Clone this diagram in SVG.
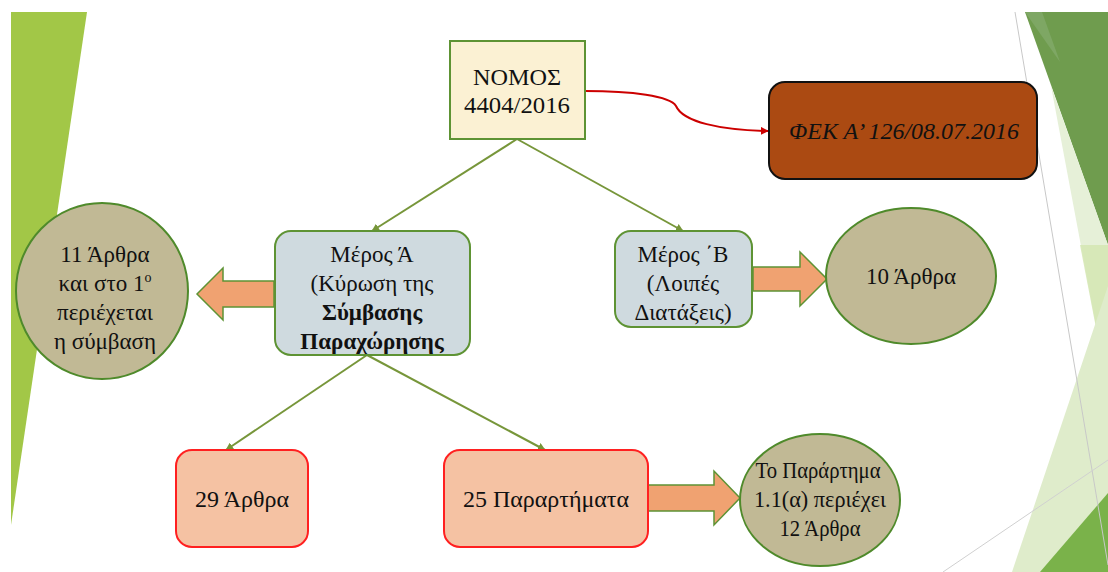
<svg xmlns="http://www.w3.org/2000/svg" width="1108" height="572" viewBox="0 0 1108 572">
<defs>
<style>
text{fill:#111;text-anchor:middle}
.t{font-size:23px}
.b{font-weight:bold}
.ell{fill:#c1b995;stroke:#4f8a2b;stroke-width:2}
.grey{fill:#cfdadf;stroke:#5e9334;stroke-width:2}
.peach{fill:#f5c2a3;stroke:#ff2020;stroke-width:2}
.blk{fill:#f0a271;stroke:#5e9334;stroke-width:1.5}
.con{stroke:#77963a;stroke-width:2;fill:none;marker-end:url(#ga)}
</style>
<marker id="ga" viewBox="0 0 10 10" refX="9" refY="5" markerWidth="4" markerHeight="4" orient="auto"><path d="M0,0 L10,5 L0,10 z" fill="#77963a"/></marker>
<marker id="ra" viewBox="0 0 10 10" refX="9" refY="5" markerWidth="4" markerHeight="4" orient="auto"><path d="M0,0 L10,5 L0,10 z" fill="#cc0000"/></marker>
</defs>
<rect width="1108" height="572" fill="#ffffff"/>
<g id="background">
<polygon points="11,12 87,12 11,525" fill="#a2c747"/>
<polygon points="1025,12 1108,12 1108,245" fill="#6f9c4e"/>
<polygon points="1025,12 1042,12 1060,62" fill="#7ea764"/>
<polygon points="1051,86 1108,245 1108,390" fill="#e6f0d8"/>
<polygon points="1080,245 1108,245 1108,390" fill="#d3e6b0" opacity="0.8"/>
<polygon points="1012,572 1108,286 1108,572" fill="#dfeccb"/>
<polygon points="1040,572 1108,493 1108,572" fill="#7ab24a"/>
<line x1="1015" y1="12" x2="1108" y2="565" stroke="#c8c8c8" stroke-width="1"/>
<line x1="943" y1="572" x2="1108" y2="460" stroke="#d0d0d0" stroke-width="1"/>
</g>
<g id="connectors">
<line class="con" x1="517" y1="139" x2="372" y2="231"/>
<line class="con" x1="517" y1="139" x2="683" y2="231"/>
<line class="con" x1="367" y1="355" x2="226" y2="450"/>
<line class="con" x1="367" y1="355" x2="545" y2="450"/>
<path d="M585,91 C632,91 670,96 676,106 C683,122 720,130 768,131" fill="none" stroke="#cc0000" stroke-width="2" marker-end="url(#ra)"/>
<polygon class="blk" points="274,281 223,281 223,268 197,294 223,320 223,307 274,307"/>
<polygon class="blk" points="753,267 800,267 800,252 827,279 800,306 800,291 753,291"/>
<polygon class="blk" points="648,485 714,485 714,471 740,498 714,525 714,511 648,511"/>
</g>
<g font-family="'Liberation Serif', 'Times New Roman', serif">
<g id="nomos">
<rect x="450" y="41" width="135" height="98" fill="#fbf1d3" stroke="#5e9334" stroke-width="2"/>
<text class="t" x="517" y="85" textLength="88" lengthAdjust="spacingAndGlyphs">ΝΟΜΟΣ</text>
<text class="t" x="517" y="113" textLength="106" lengthAdjust="spacingAndGlyphs">4404/2016</text>
</g>
<g id="fek">
<rect x="769" y="82" width="268" height="97" rx="16" fill="#ab4a12" stroke="#111" stroke-width="2"/>
<text class="t" x="904" y="139" font-style="italic" textLength="230" lengthAdjust="spacingAndGlyphs">ΦΕΚ Α’ 126/08.07.2016</text>
</g>
<g id="meros-a">
<rect class="grey" x="275" y="231" width="195" height="124" rx="16"/>
<text class="t" x="372" y="262">Μέρος Ά</text>
<text class="t" x="372" y="291">(Κύρωση της</text>
<text class="t b" x="372" y="320">Σύμβασης</text>
<text class="t b" x="372" y="349">Παραχώρησης</text>
</g>
<g id="meros-b">
<rect class="grey" x="615" y="231" width="137" height="96" rx="16"/>
<text class="t" x="683" y="262">Μέρος ΄Β</text>
<text class="t" x="683" y="291">(Λοιπές</text>
<text class="t" x="683" y="320">Διατάξεις)</text>
</g>
<g id="arthra-11">
<ellipse class="ell" cx="102" cy="291" rx="86" ry="88"/>
<text class="t" x="105" y="262">11 Άρθρα</text>
<text class="t" x="105" y="291">και στο 1<tspan font-size="14" dy="-9">ο</tspan></text>
<text class="t" x="105" y="320">περιέχεται</text>
<text class="t" x="105" y="349">η σύμβαση</text>
</g>
<g id="arthra-10">
<ellipse class="ell" cx="911" cy="276" rx="85" ry="68"/>
<text class="t" x="911" y="284">10 Άρθρα</text>
</g>
<g id="arthra-29">
<rect class="peach" x="176" y="450" width="132" height="97" rx="16"/>
<text class="t" x="242" y="507" textLength="94" lengthAdjust="spacingAndGlyphs">29 Άρθρα</text>
</g>
<g id="parartimata-25">
<rect class="peach" x="444" y="450" width="204" height="97" rx="16"/>
<text class="t" x="546" y="507" textLength="166" lengthAdjust="spacingAndGlyphs">25 Παραρτήματα</text>
</g>
<g id="parartima-11a">
<ellipse class="ell" cx="820" cy="500" rx="80" ry="66"/>
<text class="t" x="818" y="478" textLength="125" lengthAdjust="spacingAndGlyphs">Το Παράρτημα</text>
<text class="t" x="820" y="507" textLength="132" lengthAdjust="spacingAndGlyphs">1.1(α) περιέχει</text>
<text class="t" x="820" y="536" textLength="81" lengthAdjust="spacingAndGlyphs">12 Άρθρα</text>
</g>
</g>
</svg>
